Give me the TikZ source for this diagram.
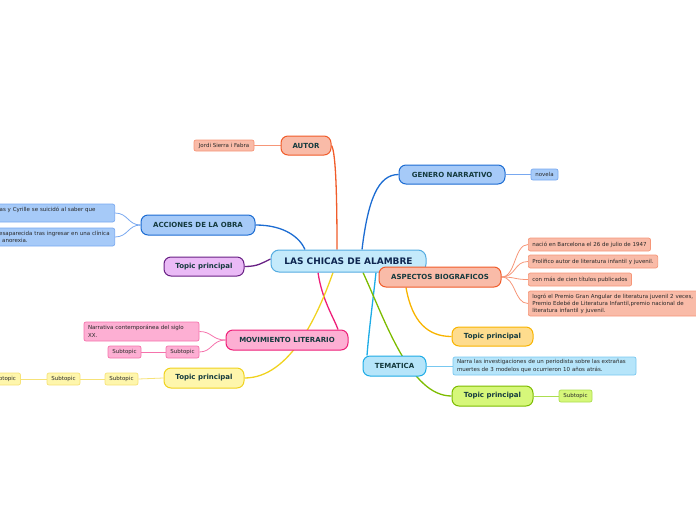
\documentclass[tikz,border=0pt]{standalone}
\usepackage{fontspec}
\setmainfont{DejaVu Sans}
\usetikzlibrary{backgrounds}
\definecolor{cenF}{RGB}{196,234,251}\definecolor{cenD}{RGB}{85,172,225}
\definecolor{salF}{RGB}{249,187,168}\definecolor{salD}{RGB}{240,92,42}\definecolor{salL}{RGB}{246,150,120}
\definecolor{bluF}{RGB}{166,202,248}\definecolor{bluD}{RGB}{28,108,210}\definecolor{bluL}{RGB}{120,168,240}
\definecolor{purF}{RGB}{234,186,246}\definecolor{purD}{RGB}{104,32,132}
\definecolor{pnkF}{RGB}{253,175,211}\definecolor{pnkD}{RGB}{238,30,120}\definecolor{pnkL}{RGB}{245,115,172}
\definecolor{yelF}{RGB}{254,246,172}\definecolor{yelD}{RGB}{240,210,30}\definecolor{yelL}{RGB}{246,226,120}
\definecolor{oraF}{RGB}{254,220,142}\definecolor{oraD}{RGB}{248,180,0}
\definecolor{temF}{RGB}{182,229,250}\definecolor{temD}{RGB}{30,172,230}\definecolor{temL}{RGB}{120,200,240}
\definecolor{grnF}{RGB}{214,247,122}\definecolor{grnD}{RGB}{125,188,0}\definecolor{grnL}{RGB}{172,222,80}
\definecolor{mainT}{RGB}{20,58,62}\definecolor{cenT}{RGB}{14,38,80}\definecolor{subT}{RGB}{40,40,40}
\begin{document}
\begin{tikzpicture}[x=1pt,y=-1pt,
  mainbox/.style={draw, line width=1pt, rounded corners=7pt, inner sep=0pt,
    font=\fontsize{7}{8}\selectfont\bfseries, text=mainT},
  subbox/.style={draw, line width=0.7pt, rounded corners=2pt, inner sep=0pt,
    font=\fontsize{5.5}{7.6}\selectfont, text=subT},
  mainline/.style={line width=1.3pt},
  subline/.style={line width=0.8pt}]
\useasboundingbox (0,0) rectangle (696,520);

% central
\node[mainbox, fill=cenF, draw=cenD, text=cenT, font=\fontsize{9}{10}\selectfont\bfseries,
  minimum width=155, minimum height=22, rounded corners=8pt] (central) at (348.5,261) {LAS CHICAS DE ALAMBRE};

% AUTOR
\node[mainbox, fill=salF, draw=salD, minimum width=50, minimum height=19] (autor) at (306,145.5) {AUTOR};
\node[subbox, fill=salF, draw=salL, minimum width=60, minimum height=11] (jordi) at (224,145.5) {Jordi Sierra i Fabra};

% GENERO
\node[mainbox, fill=bluF, draw=bluD, minimum width=106, minimum height=19] (genero) at (452,174.5) {GENERO NARRATIVO};
\node[subbox, fill=bluF, draw=bluL, minimum width=27, minimum height=11] (novela) at (544.5,174.5) {novela};

% ACCIONES
\node[mainbox, fill=bluF, draw=bluD, minimum width=114, minimum height=20] (acciones) at (198,225) {ACCIONES DE LA OBRA};
\node[subbox, fill=bluF, draw=bluL, minimum width=126, minimum height=18, inner xsep=3pt,
  text width=120, align=left, anchor=east] (accA) at (115,213) {\hspace*{8pt}as y Cyrille se suicidó al saber que\\\mbox{}};
\node[subbox, fill=bluF, draw=bluL, minimum width=126, minimum height=18, inner xsep=3pt,
  text width=120, align=left, anchor=east] (accB) at (115,237) {\hspace*{7.5pt}esaparecida tras ingresar en una clínica\\\hspace*{10.5pt}anorexia.};

% purple topic
\node[mainbox, fill=purF, draw=purD, minimum width=80, minimum height=19] (purtopic) at (204,266.5) {Topic principal};

% ASPECTOS
\node[mainbox, fill=salF, draw=salD, minimum width=122, minimum height=20] (aspectos) at (440,277) {ASPECTOS BIOGRAFICOS};
\node[subbox, fill=salF, draw=salL, minimum height=13, inner xsep=4pt, anchor=west] (asp1) at (528,244.5) {nació en Barcelona el 26 de julio de 1947};
\node[subbox, fill=salF, draw=salL, minimum height=13, inner xsep=4pt, anchor=west] (asp2) at (528,261.5) {Prolífico autor de literatura infantil y juvenil.};
\node[subbox, fill=salF, draw=salL, minimum height=13, inner xsep=4pt, anchor=west] (asp3) at (528,279.5) {con más de cien títulos publicados};
\node[subbox, fill=salF, draw=salL, minimum height=25, inner xsep=4pt, text width=190, align=left, anchor=west,
  font=\fontsize{5.5}{7}\selectfont] (asp4) at (528,303.5)
  {logró el Premio Gran Angular de literatura juvenil 2 veces,\\Premio Edebé de Literatura Infantil,premio nacional de\\literatura infantil y juvenil.};

% orange topic
\node[mainbox, fill=oraF, draw=oraD, minimum width=81, minimum height=19] (oratopic) at (492.5,336.5) {Topic principal};

% TEMATICA
\node[mainbox, fill=temF, draw=temD, minimum width=63, minimum height=20] (tematica) at (394.5,366) {TEMATICA};
\node[subbox, fill=temF, draw=temL, minimum width=183, minimum height=18, inner xsep=4pt, text width=175, align=left] (narra) at (544.5,366)
  {Narra las investigaciones de un periodista sobre las extrañas\\muertes de 3 modelos que ocurrieron 10 años atrás.};

% green topic
\node[mainbox, fill=grnF, draw=grnD, minimum width=81, minimum height=20] (grntopic) at (492.5,396) {Topic principal};
\node[subbox, fill=grnF, draw=grnL, minimum width=33, minimum height=12] (grnsub) at (575.5,396) {Subtopic};

% MOVIMIENTO
\node[mainbox, fill=pnkF, draw=pnkD, minimum width=122, minimum height=20] (movimiento) at (287,340) {MOVIMIENTO LITERARIO};
\node[subbox, fill=pnkF, draw=pnkL, minimum width=115, minimum height=19, inner xsep=4pt, text width=107, align=left] (narrativa) at (141.5,331.5)
  {Narrativa contemporánea del siglo\\XX.};
\node[subbox, fill=pnkF, draw=pnkL, minimum width=33, minimum height=12] (pnksubA) at (182.5,352) {Subtopic};
\node[subbox, fill=pnkF, draw=pnkL, minimum width=33, minimum height=12] (pnksubB) at (124.5,352) {Subtopic};

% yellow topic
\node[mainbox, fill=yelF, draw=yelD, minimum width=80, minimum height=20] (yeltopic) at (204,378) {Topic principal};
\node[subbox, fill=yelF, draw=yelL, minimum width=33, minimum height=12] (yelsubA) at (121.5,379) {Subtopic};
\node[subbox, fill=yelF, draw=yelL, minimum width=33, minimum height=12] (yelsubB) at (63.5,379) {Subtopic};
\node[subbox, fill=yelF, draw=yelL, minimum width=33, minimum height=12] (yelsubC) at (4,379) {Subtopic};

\begin{scope}[on background layer]
% main connectors
\draw[mainline, salD] (autor.east) .. controls (336,152) and (337,200) .. ([xshift=-11.5pt]central.north);
\draw[mainline, bluD] ([xshift=13.5pt]central.north) .. controls (368,200) and (378,174.5) .. (genero.west);
\draw[mainline, bluD] (acciones.east) .. controls (285,225) and (300,238) .. ([xshift=-43.5pt]central.north);
\draw[mainline, purD] (purtopic.east) .. controls (258,266.5) and (262,263) .. ([yshift=2pt]central.west);
\draw[mainline, pnkD] ([xshift=-30.5pt]central.south) .. controls (322,300) and (334,318) .. ([xshift=51pt]movimiento.north);
\draw[mainline, yelD] ([xshift=-15.5pt]central.south) .. controls (318,315) and (290,378) .. (yeltopic.east);
\draw[mainline, temD] ([xshift=27.5pt]central.south) .. controls (373,300) and (369,330) .. ([xshift=-27.5pt]tematica.north);
\draw[mainline, grnD] ([xshift=14.5pt]central.south) .. controls (385,320) and (410,396) .. (grntopic.west);
\draw[mainline, salD] ([xshift=46pt]central.south) -- ([xshift=-40pt]aspectos.north);
\draw[mainline, oraD] ([xshift=-34pt]aspectos.south) .. controls (412,322) and (428,336.5) .. (oratopic.west);
% sub connectors
\draw[subline, salL] (autor.west) -- (jordi.east);
\draw[subline, bluL] (genero.east) -- (novela.west);
\draw[subline, bluL] (acciones.west) .. controls (128,225) and (128,213) .. (accA.east);
\draw[subline, bluL] (acciones.west) .. controls (128,225) and (128,237) .. (accB.east);
\draw[subline, salL] (aspectos.east) .. controls (516,277) and (514,244.5) .. (asp1.west);
\draw[subline, salL] (aspectos.east) .. controls (516,277) and (514,261.5) .. (asp2.west);
\draw[subline, salL] (aspectos.east) .. controls (516,277) and (514,279.5) .. (asp3.west);
\draw[subline, salL] (aspectos.east) .. controls (516,277) and (514,303.5) .. (asp4.west);
\draw[subline, temL] (tematica.east) -- (narra.west);
\draw[subline, grnL] (grntopic.east) -- (grnsub.west);
\draw[subline, pnkL] (movimiento.west) .. controls (212,340) and (212,331.5) .. (narrativa.east);
\draw[subline, pnkL] (movimiento.west) .. controls (212,340) and (212,352) .. (pnksubA.east);
\draw[subline, pnkL] (pnksubA.west) -- (pnksubB.east);
\draw[subline, yelL] (yeltopic.west) -- (yelsubA.east);
\draw[subline, yelL] (yelsubA.west) -- (yelsubB.east);
\draw[subline, yelL] (yelsubB.west) -- (yelsubC.east);
\end{scope}
\end{tikzpicture}
\end{document}
